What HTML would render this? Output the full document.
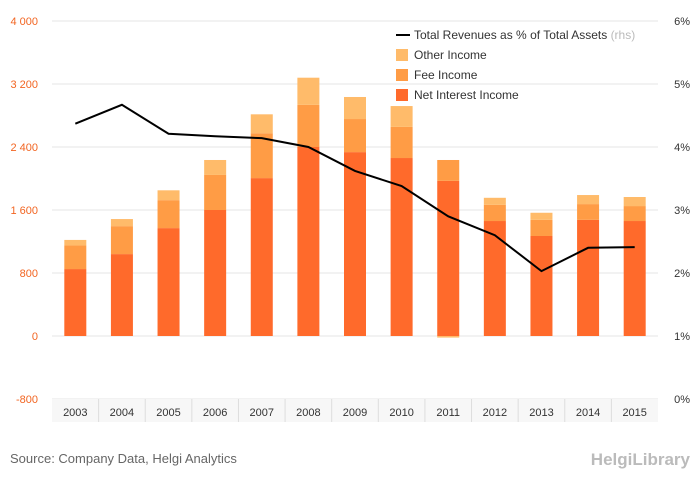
<!DOCTYPE html>
<html><head><meta charset="utf-8"><style>
body{margin:0;background:#fff;font-family:"Liberation Sans",sans-serif}
svg text{font-family:"Liberation Sans",sans-serif}
</style></head><body>
<svg id="chart" width="700" height="483" xmlns="http://www.w3.org/2000/svg">
<g id="grid"></g><g id="bars"></g><g id="line"></g><g id="axes"></g>
<g>
<line x1="396" y1="35" x2="410" y2="35" stroke="#000" stroke-width="2"/>
<text x="414" y="39" font-size="12" fill="#333">Total Revenues as % of Total Assets <tspan fill="#bbb">(rhs)</tspan></text>
<rect x="396" y="49" width="12" height="12" fill="#ffbb6a"/>
<text x="414" y="59" font-size="12" fill="#333">Other Income</text>
<rect x="396" y="69" width="12" height="12" fill="#ff9c45"/>
<text x="414" y="79" font-size="12" fill="#333">Fee Income</text>
<rect x="396" y="89" width="12" height="12" fill="#ff6a2b"/>
<text x="414" y="99" font-size="12" fill="#333">Net Interest Income</text>
</g>
<text x="10" y="463" font-size="13" fill="#666">Source: Company Data, Helgi Analytics</text>
<text x="690" y="465" font-size="17" fill="#bbb" text-anchor="end" font-weight="bold">HelgiLibrary</text>
</svg>
<script>
const categories=["2003","2004","2005","2006","2007","2008","2009","2010","2011","2012","2013","2014","2015"];
const netInterest=[850,1040,1370,1600,2005,2400,2335,2260,1970,1460,1270,1475,1460];
const feeIncome=[300,355,355,445,570,535,420,395,265,205,205,200,190];
const otherIncome=[70,90,125,190,240,345,280,265,-20,90,90,115,115];
const revPct=[4.37,4.67,4.21,4.17,4.14,4.0,3.62,3.38,2.9,2.6,2.03,2.4,2.41];
const leftTicks=[-800,0,800,1600,2400,3200,4000];
const rightTicks=[0,1,2,3,4,5,6];
const X0=52,X1=658,Ytop=21,Ybot=399;
const ns="http://www.w3.org/2000/svg";
const step=(X1-X0)/categories.length;
const xc=i=>X0+step*(i+0.5);
const yL=v=>Ytop+(4000-v)/4800*(Ybot-Ytop);
const yR=v=>Ytop+(6-v)/6*(Ybot-Ytop);
function mk(t,a,p){const e=document.createElementNS(ns,t);for(const k in a)e.setAttribute(k,a[k]);p.appendChild(e);return e;}
const grid=document.getElementById('grid'),bars=document.getElementById('bars'),axes=document.getElementById('axes'),lineG=document.getElementById('line');
leftTicks.forEach((v,i)=>{
 const g=mk('line',{x1:X0,x2:X1,y1:yL(v),y2:yL(v),stroke:'#e6e6e6'},grid);
 
 
 const t=mk('text',{x:38,y:yL(v)+4,'font-size':11,fill:'#f26522','text-anchor':'end'},axes);
 t.textContent=v.toLocaleString('en-US').replace(',',' ');
 
 
});
rightTicks.forEach(v=>{
 const t=mk('text',{x:690,y:yR(v)+4,'font-size':11,fill:'#333','text-anchor':'end'},axes);
 t.textContent=v+'%';
 
 
});
const band=mk('rect',{x:X0,y:Ybot,width:X1-X0,height:23,fill:'#f7f7f7'},axes);


categories.forEach((c,i)=>{
 if(i>0){const s=mk('line',{x1:X0+step*i,x2:X0+step*i,y1:Ybot,y2:Ybot+23,stroke:'#ddd'},axes);
 
 }
 const t=mk('text',{x:xc(i),y:Ybot+17,'font-size':11,fill:'#333','text-anchor':'middle'},axes);
 t.textContent=c;
 
 
 const w=22,x=xc(i)-w/2;
 let base=0;
 [[netInterest[i],'#ff6a2b','bar-net-interest'],[feeIncome[i],'#ff9c45','bar-fee-income'],[otherIncome[i],'#ffbb6a','bar-other-income']].forEach(([v,col,n])=>{
  let y1,y2;
  if(v>=0){y1=yL(base+v);y2=yL(base);base+=v;}else{y1=yL(0);y2=yL(v);}
  const r=mk('rect',{x:x,y:y1,width:w,height:Math.max(0,y2-y1),fill:col},bars);
  
  
 });
});
const pl=mk('polyline',{points:revPct.map((v,i)=>xc(i)+','+yR(v)).join(' '),fill:'none',stroke:'#000','stroke-width':2},lineG);


</script>
</body></html>
